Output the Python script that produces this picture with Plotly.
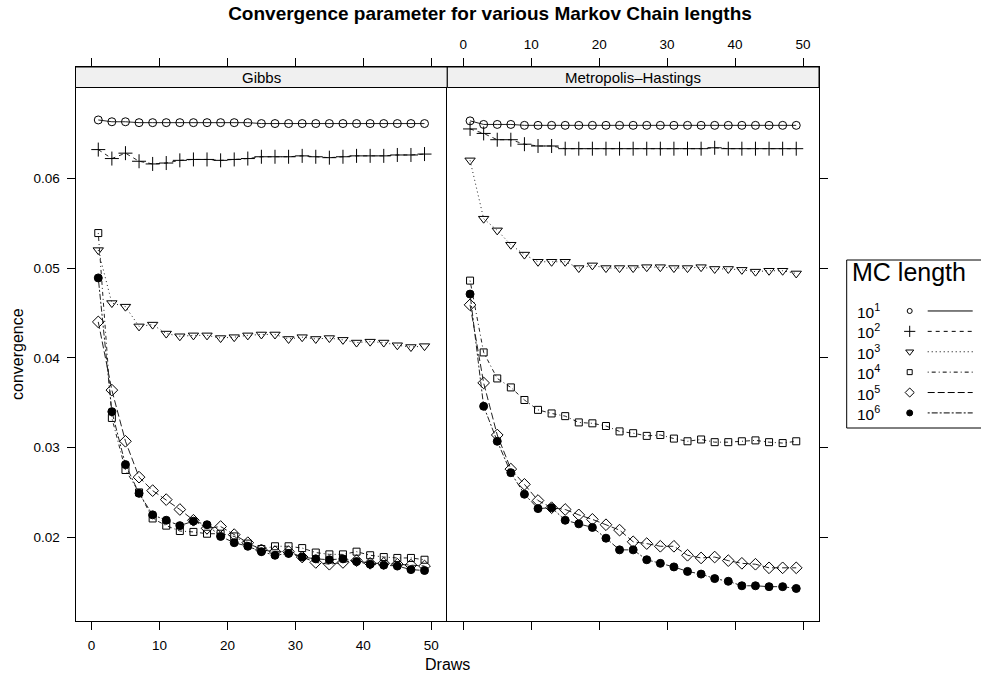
import plotly.graph_objects as go

# ---------------- data ----------------
draws = [1, 3, 5, 7, 9, 11, 13, 15, 17, 19, 21, 23, 25, 27, 29, 31, 33, 35, 37, 39, 41, 43, 45, 47, 49]
panels = ["Gibbs", "Metropolis\u2013Hastings"]
mc_exponents = [1, 2, 3, 4, 5, 6]

gibbs_1e1 = [0.0665, 0.0663, 0.0663, 0.0662, 0.0662, 0.0662, 0.0662, 0.0662, 0.0662, 0.0662, 0.0662, 0.0662, 0.0661,
             0.0661, 0.0661, 0.0661, 0.0661, 0.0661, 0.0661, 0.0661, 0.0661, 0.0661, 0.0661, 0.0661, 0.0661]
gibbs_1e2 = [0.0632, 0.0622, 0.0628, 0.0619, 0.0616, 0.0617, 0.0620, 0.0621, 0.0621, 0.0620, 0.0621, 0.0622, 0.0624,
             0.0624, 0.0624, 0.0625, 0.0624, 0.0623, 0.0624, 0.0625, 0.0625, 0.0625, 0.0626, 0.0626, 0.0627]
gibbs_1e3 = [0.0520, 0.0461, 0.0457, 0.0435, 0.0437, 0.0427, 0.0424, 0.0425, 0.0425, 0.0422, 0.0423, 0.0425, 0.0426,
             0.0426, 0.0421, 0.0423, 0.0421, 0.0422, 0.0420, 0.0417, 0.0418, 0.0417, 0.0414, 0.0412, 0.0413]
gibbs_1e4 = [0.0539, 0.0333, 0.0275, 0.0250, 0.0221, 0.0213, 0.0207, 0.0206, 0.0204, 0.0204, 0.0201, 0.0193, 0.0187,
             0.0190, 0.0190, 0.0188, 0.0183, 0.0181, 0.0181, 0.0184, 0.0180, 0.0178, 0.0177, 0.0177, 0.0175]
gibbs_1e5 = [0.0440, 0.0364, 0.0307, 0.0267, 0.0252, 0.0242, 0.0231, 0.0219, 0.0210, 0.0212, 0.0203, 0.0194, 0.0186,
             0.0184, 0.0184, 0.0178, 0.0172, 0.0170, 0.0172, 0.0174, 0.0171, 0.0171, 0.0170, 0.0169, 0.0168]
gibbs_1e6 = [0.0489, 0.0340, 0.0281, 0.0249, 0.0225, 0.0219, 0.0213, 0.0218, 0.0214, 0.0201, 0.0194, 0.0190, 0.0184,
             0.0180, 0.0182, 0.0178, 0.0176, 0.0175, 0.0176, 0.0173, 0.0170, 0.0169, 0.0168, 0.0164, 0.0163]

mh_1e1 = [0.0664, 0.0660, 0.0660, 0.0660, 0.0659, 0.0659, 0.0659, 0.0659, 0.0659, 0.0659, 0.0659, 0.0659, 0.0659,
          0.0659, 0.0659, 0.0659, 0.0659, 0.0659, 0.0659, 0.0659, 0.0659, 0.0659, 0.0659, 0.0659, 0.0659]
mh_1e2 = [0.0655, 0.0650, 0.0643, 0.0643, 0.0638, 0.0636, 0.0636, 0.0633, 0.0633, 0.0633, 0.0633, 0.0633, 0.0633,
          0.0633, 0.0633, 0.0633, 0.0633, 0.0633, 0.0634, 0.0633, 0.0633, 0.0633, 0.0633, 0.0633, 0.0633]
mh_1e3 = [0.0620, 0.0555, 0.0542, 0.0526, 0.0515, 0.0507, 0.0507, 0.0507, 0.0500, 0.0503, 0.0500, 0.0500, 0.0500,
          0.0501, 0.0501, 0.0500, 0.0500, 0.0501, 0.0499, 0.0499, 0.0498, 0.0496, 0.0497, 0.0497, 0.0494]
mh_1e4 = [0.0486, 0.0406, 0.0377, 0.0367, 0.0353, 0.0342, 0.0338, 0.0335, 0.0328, 0.0327, 0.0324, 0.0318, 0.0316,
          0.0313, 0.0314, 0.0310, 0.0307, 0.0309, 0.0306, 0.0306, 0.0307, 0.0308, 0.0306, 0.0305, 0.0307]
mh_1e5 = [0.0459, 0.0372, 0.0314, 0.0276, 0.0259, 0.0241, 0.0233, 0.0231, 0.0225, 0.0220, 0.0214, 0.0208, 0.0195,
          0.0193, 0.0190, 0.0190, 0.0180, 0.0177, 0.0178, 0.0174, 0.0171, 0.0170, 0.0166, 0.0166, 0.0166]
mh_1e6 = [0.0471, 0.0346, 0.0307, 0.0272, 0.0248, 0.0232, 0.0233, 0.0219, 0.0215, 0.0211, 0.0199, 0.0186, 0.0186,
          0.0175, 0.0171, 0.0167, 0.0162, 0.0159, 0.0154, 0.0151, 0.0146, 0.0146, 0.0145, 0.0145, 0.0143]

x_ticks = [0, 10, 20, 30, 40, 50]
y_ticks = [0.02, 0.03, 0.04, 0.05, 0.06]

series_by_panel = [
    [gibbs_1e1, gibbs_1e2, gibbs_1e3, gibbs_1e4, gibbs_1e5, gibbs_1e6],
    [mh_1e1, mh_1e2, mh_1e3, mh_1e4, mh_1e5, mh_1e6],
]

# ---------------- styles ----------------
W, H = 981, 679
FONT = "Liberation Sans, Arial, Helvetica, sans-serif"
symbols = ["circle-open", "cross-thin-open", "triangle-down-open", "square-open", "diamond-open", "circle"]
sizes = [8, 10, 9, 7, 9, 8]
legend_sizes = [5, 8, 7, 5, 7, 6]
dashes = ["solid", "4px,4px", "1px,3px", "1px,3px,4px,3px", "7px,3px", "2px,2px,6px,2px"]
LINE_COL = "#222222"


def px_x(p):
    return p / W


def px_y(p):
    return (H - p) / H


x_doms = [[px_x(75.5), px_x(447.3)], [px_x(447.3), px_x(819.0)]]
y_dom = [px_y(621), px_y(67)]
x_range = [-2.35, 52.35]
y_range = [0.010675, 0.072401]
strip_bottom, strip_top = px_y(87.5), px_y(67)

fig = go.Figure()

for p, series in enumerate(series_by_panel):
    xa = "x" if p == 0 else "x2"
    ya = "y" if p == 0 else "y2"
    for i, vals in enumerate(series):
        fig.add_trace(go.Scatter(
            x=draws, y=vals, xaxis=xa, yaxis=ya, mode="lines+markers",
            line=dict(color=LINE_COL, width=1, dash=dashes[i]),
            marker=dict(symbol=symbols[i], size=sizes[i], color="black",
                        line=dict(width=1, color="black")),
            showlegend=False, hoverinfo="skip"))

# legend panel (rows indexed by series order)
leg_sym_x, leg_line_x, leg_label_x = 63, [81, 126], 8
for i, e in enumerate(mc_exponents):
    fig.add_trace(go.Scatter(
        x=leg_line_x, y=[i, i], xaxis="x3", yaxis="y3", mode="lines",
        line=dict(color="black", width=1, dash=dashes[i]), showlegend=False, hoverinfo="skip"))
    fig.add_trace(go.Scatter(
        x=[leg_sym_x], y=[i], xaxis="x3", yaxis="y3", mode="markers",
        marker=dict(symbol=symbols[i], size=legend_sizes[i], color="black",
                    line=dict(width=1, color="black")),
        showlegend=False, hoverinfo="skip"))

axis_common = dict(showline=True, linecolor="black", linewidth=1, ticks="outside", ticklen=8,
                   tickcolor="black", tickwidth=1, showgrid=False, zeroline=False,
                   tickfont=dict(family=FONT, size=13.5, color="black"), ticklabelstandoff=4)

fig.update_layout(
    width=W, height=H, margin=dict(l=0, r=0, t=0, b=0),
    paper_bgcolor="white", plot_bgcolor="white",
    font=dict(family=FONT, color="black"),
    title=dict(text="<b>Convergence parameter for various Markov Chain lengths</b>",
               x=px_x(490), xanchor="center", y=px_y(13), yanchor="middle",
               font=dict(family=FONT, size=19, color="black")),
    xaxis=dict(domain=x_doms[0], range=x_range, anchor="y", side="bottom", mirror="ticks",
               tickvals=x_ticks, **axis_common),
    xaxis2=dict(domain=x_doms[1], range=x_range, anchor="y2", side="top", mirror="ticks",
                tickvals=x_ticks, **axis_common),
    yaxis=dict(domain=y_dom, range=y_range, anchor="x", side="left", mirror=False,
               tickvals=y_ticks, tickformat=".2f", **axis_common),
    yaxis2=dict(domain=y_dom, range=y_range, anchor="x2", side="right", mirror=True,
                tickvals=y_ticks, showticklabels=False, **axis_common),
    xaxis3=dict(domain=[px_x(846.7), 1.0], range=[0, 134.3], visible=False, fixedrange=True),
    yaxis3=dict(domain=[px_y(428), px_y(260)], range=[5.74, -2.5], visible=False, fixedrange=True),
)

shapes = []
annotations = []
for p, name in enumerate(panels):
    shapes.append(dict(type="rect", xref="paper", yref="paper",
                       x0=x_doms[p][0], x1=x_doms[p][1], y0=strip_bottom, y1=strip_top,
                       fillcolor="#f0f0f0", line=dict(color="black", width=1), layer="above"))
    annotations.append(dict(text=name, xref="paper", yref="paper",
                            x=(x_doms[p][0] + x_doms[p][1]) / 2, y=(strip_bottom + strip_top) / 2,
                            xanchor="center", yanchor="middle", showarrow=False,
                            font=dict(family=FONT, size=15, color="black")))

# legend box
shapes.append(dict(type="rect", xref="paper", yref="paper", x0=px_x(846.7), x1=1.02,
                   y0=px_y(428), y1=px_y(260), line=dict(color="black", width=1),
                   fillcolor="rgba(0,0,0,0)"))
annotations.append(dict(text="MC length", xref="x3", yref="y3", x=3, y=-1.9,
                        xanchor="left", yanchor="middle", showarrow=False,
                        font=dict(family=FONT, size=25, color="black")))
for i, e in enumerate(mc_exponents):
    annotations.append(dict(text=f"10<sup>{e}</sup>", xref="x3", yref="y3", x=leg_label_x, y=i,
                            xanchor="left", yanchor="middle", showarrow=False,
                            font=dict(family=FONT, size=15.5, color="black")))

# axis titles
annotations.append(dict(text="Draws", xref="paper", yref="paper", x=px_x(447.3), y=px_y(664),
                        xanchor="center", yanchor="middle", showarrow=False,
                        font=dict(family=FONT, size=16, color="black")))
annotations.append(dict(text="convergence", xref="paper", yref="paper", x=px_x(18), y=px_y(354),
                        xanchor="center", yanchor="middle", showarrow=False, textangle=-90,
                        font=dict(family=FONT, size=16, color="black")))

fig.update_layout(shapes=shapes, annotations=annotations)
fig.write_html("out.html")
